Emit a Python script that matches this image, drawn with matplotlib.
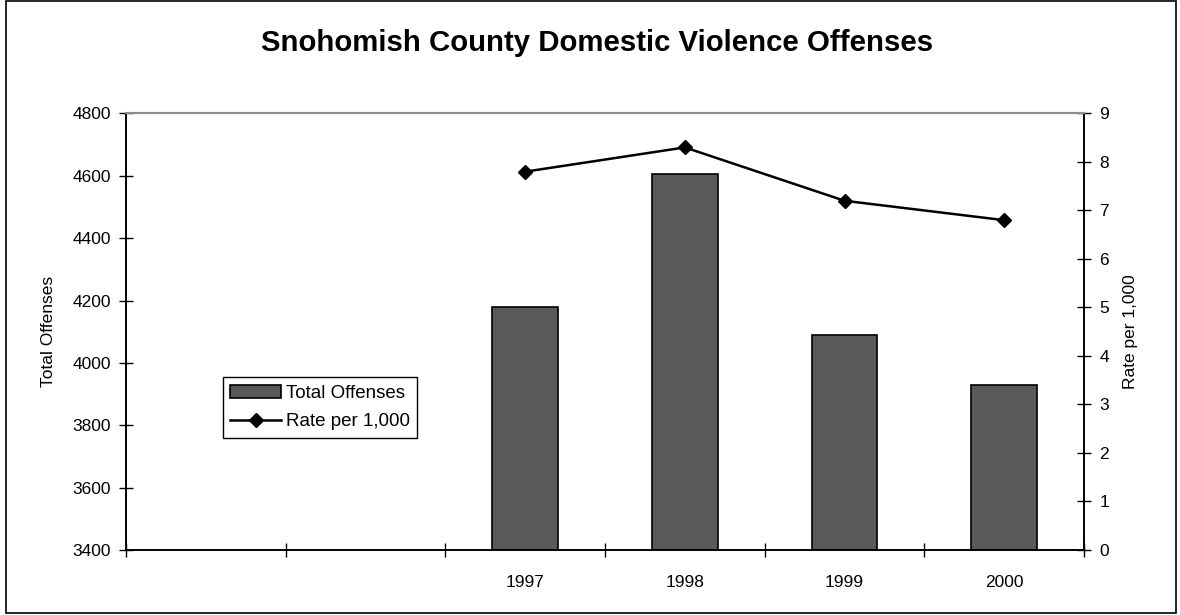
import matplotlib
matplotlib.use('Agg')
import matplotlib.pyplot as plt
from matplotlib.patches import Rectangle

plt.rcParams['font.family'] = ['Liberation Sans', 'DejaVu Sans']

# data
categories = ['', '', '1997', '1998', '1999', '2000']
offenses = [None, None, 4180, 4607, 4090, 3930]
rate = [None, None, 7.8, 8.3, 7.2, 6.8]

x = list(range(len(categories)))
xb = [i for i, v in zip(x, offenses) if v is not None]
yb = [v for v in offenses if v is not None]
yr = [v for v in rate if v is not None]

fig = plt.figure(figsize=(11.8, 6.15), dpi=100)
ax = fig.add_axes([0.1068, 0.1057, 0.8119, 0.7098])
ax2 = ax.twinx()

bars = ax.bar(xb, [v - 3400 for v in yb], bottom=3400, width=0.41,
              color='#595959', edgecolor='black', linewidth=1.2, zorder=2)
line, = ax2.plot(xb, yr, color='black', marker='D', markersize=7,
                 linewidth=1.8, zorder=3)

ax.set_xlim(-0.5, len(categories) - 0.5)
ax.set_ylim(3400, 4800)
ax.set_yticks(range(3400, 4801, 200))
ax2.set_ylim(0, 9)
ax2.set_yticks(range(0, 10))

# category boundaries as ticks, labels centred
ax.set_xticks([i - 0.5 for i in range(len(categories) + 1)], minor=False)
ax.set_xticklabels([])
ax.set_xticks(x, minor=True)
ax.set_xticklabels(categories, minor=True)
ax.tick_params(axis='x', which='minor', length=0, pad=18, labelsize=12.5)
ax.tick_params(axis='x', which='major', direction='inout', length=10, width=1)
ax.tick_params(axis='y', direction='inout', length=10, width=1, labelsize=12.5, pad=6)
ax2.tick_params(axis='y', direction='inout', length=10, width=1, labelsize=12.5, pad=6)

for a in (ax, ax2):
    a.spines['top'].set_color('#8c8c8c')
    a.spines['top'].set_linewidth(1.5)
    a.spines['left'].set_linewidth(1.2)
    a.spines['right'].set_linewidth(1.2)
    a.spines['bottom'].set_linewidth(1.2)

ax.set_ylabel('Total Offenses', fontsize=12.5, labelpad=12)
ax2.set_ylabel('Rate per 1,000', fontsize=12.5, labelpad=10)

fig.text(0.506, 0.930, 'Snohomish County Domestic Violence Offenses',
         ha='center', va='center', fontsize=21.2, fontweight='bold')

leg = ax.legend([bars, line], ['Total Offenses', 'Rate per 1,000'],
                loc='lower left', bbox_to_anchor=(0.101, 0.257),
                fancybox=False, framealpha=1, edgecolor='black',
                fontsize=13.5, borderpad=0.4, labelspacing=0.6,
                handlelength=2.7, handletextpad=0.27, borderaxespad=0)
leg.get_frame().set_linewidth(1)

fig.patches.append(Rectangle((0.005, 0.003), 0.992, 0.995, transform=fig.transFigure,
                             fill=False, edgecolor='black', linewidth=1.2))

fig.savefig('out.png', dpi=100)
